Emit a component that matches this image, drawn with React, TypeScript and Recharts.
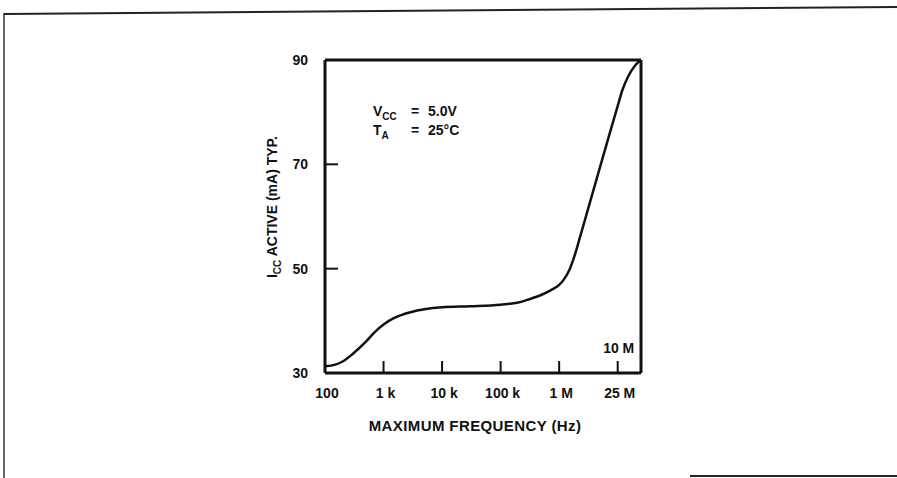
import React from "react";
import {
  LineChart,
  Line,
  XAxis,
  YAxis,
  ReferenceLine,
  Customized,
} from "recharts";

// ---- data ----
const freqHz = [
  100, 150, 200, 300, 500, 700, 1000, 1500, 2000, 3000, 5000, 10000, 30000,
  100000, 200000, 300000, 500000, 700000, 1e6, 1.2e6, 1.5e6, 1.8e6, 2.2e6, 3e6,
  5e6, 7e6, 1e7, 1.2e7, 1.5e7, 2e7, 2.5e7,
];
const iccActiveMa = [
  31.3, 31.6, 32.2, 33.7, 36.0, 37.8, 39.3, 40.5, 41.1, 41.7, 42.2, 42.6, 42.8,
  43.1, 43.5, 44.1, 45.0, 45.8, 46.9, 47.9, 49.8, 52.2, 55.5, 60.8, 69.5, 75.2,
  81.2, 84.2, 86.8, 89.0, 90.0,
];
const xTicks = [100, 1000, 10000, 100000, 1e6, 1e7];
const xTickLabels = ["100", "1 k", "10 k", "100 k", "1 M", "25 M"];
const xInnerNote = "10 M";
const yTicks = [30, 50, 70, 90];
const xDomain = [100, 2.5e7];
const yDomain = [30, 90];

const data = freqHz.map((f, i) => ({ f, icc: iccActiveMa[i] }));

const FONT = "'Liberation Sans', Arial, Helvetica, sans-serif";
const INK = "#111";

const XTick = (props: any) => {
  const { x, y, payload, index } = props;
  const label = xTickLabels[index] ?? String(payload.value);
  return (
    <g>
      <line x1={x} y1={y} x2={x} y2={y - 12} stroke={INK} strokeWidth={2} />
      <text
        x={x + 2}
        y={y + 25}
        textAnchor="middle"
        fontFamily={FONT}
        fontWeight="bold"
        fontSize={14}
        fill={INK}
      >
        {label}
      </text>
      {payload.value === 1e7 ? (
        <text
          x={x + 1}
          y={y - 20}
          textAnchor="middle"
          fontFamily={FONT}
          fontWeight="bold"
          fontSize={14}
          fill={INK}
        >
          {xInnerNote}
        </text>
      ) : null}
    </g>
  );
};

const YTick = (props: any) => {
  const { x, y, payload } = props;
  return (
    <g>
      <line x1={x} y1={y} x2={x + 13} y2={y} stroke={INK} strokeWidth={2} />
      <text
        x={x - 17}
        y={y + 5}
        textAnchor="end"
        fontFamily={FONT}
        fontWeight="bold"
        fontSize={14}
        fill={INK}
      >
        {payload.value}
      </text>
    </g>
  );
};

const Annotations = () => (
  <g fontFamily={FONT} fontWeight="bold" fill={INK}>
    <text transform="translate(277,207) rotate(-90)" textAnchor="middle" fontSize={14}>
      I<tspan fontSize={10} dy={4}>CC</tspan>
      <tspan dy={-4}> ACTIVE (mA) TYP.</tspan>
    </text>
    <text y={116} fontSize={14}>
      <tspan x={373}>V</tspan>
      <tspan fontSize={10} dy={4}>CC</tspan>
      <tspan x={411} dy={-4}>=</tspan>
      <tspan x={428}>5.0V</tspan>
    </text>
    <text y={135} fontSize={14}>
      <tspan x={373}>T</tspan>
      <tspan fontSize={10} dy={4}>A</tspan>
      <tspan x={411} dy={-4}>=</tspan>
      <tspan x={428}>25°C</tspan>
    </text>
    <text
      x={475}
      y={431}
      textAnchor="middle"
      fontSize={15}
      letterSpacing={0.4}
    >
      MAXIMUM FREQUENCY (Hz)
    </text>
  </g>
);

export default function App() {
  return (
    <div style={{ position: "absolute", left: 0, top: 0, width: 897, height: 478, background: "#fff" }}>
      <svg
        width={897}
        height={478}
        style={{ position: "absolute", left: 0, top: 0 }}
      >
        <line x1={4} y1={14} x2={897} y2={7} stroke="#222" strokeWidth={2} />
        <line x1={4} y1={13} x2={4} y2={478} stroke="#333" strokeWidth={1.5} />
        <line x1={690} y1={476} x2={897} y2={476} stroke="#222" strokeWidth={2} />
      </svg>
      <div style={{ position: "absolute", left: 0, top: 0 }}>
        <LineChart
          width={897}
          height={478}
          data={data}
          margin={{ top: 60, right: 256, bottom: 55, left: 265 }}
        >
          <XAxis
            dataKey="f"
            type="number"
            scale="log"
            domain={xDomain}
            ticks={xTicks}
            allowDataOverflow
            height={50}
            axisLine={{ stroke: INK, strokeWidth: 3 }}
            tickLine={false}
            tickSize={0}
            tickMargin={0}
            tick={<XTick />}
            interval={0}
          />
          <YAxis
            type="number"
            domain={yDomain}
            ticks={yTicks}
            width={60}
            axisLine={{ stroke: INK, strokeWidth: 3 }}
            tickLine={false}
            tickSize={0}
            tickMargin={0}
            tick={<YTick />}
            interval={0}
          />
          <ReferenceLine y={90} stroke={INK} strokeWidth={3} />
          <ReferenceLine x={2.5e7} stroke={INK} strokeWidth={3} />
          <Line
            type="monotone"
            dataKey="icc"
            stroke={INK}
            strokeWidth={2.5}
            dot={false}
            isAnimationActive={false}
          />
          <Customized component={<Annotations />} />
        </LineChart>
      </div>
    </div>
  );
}
